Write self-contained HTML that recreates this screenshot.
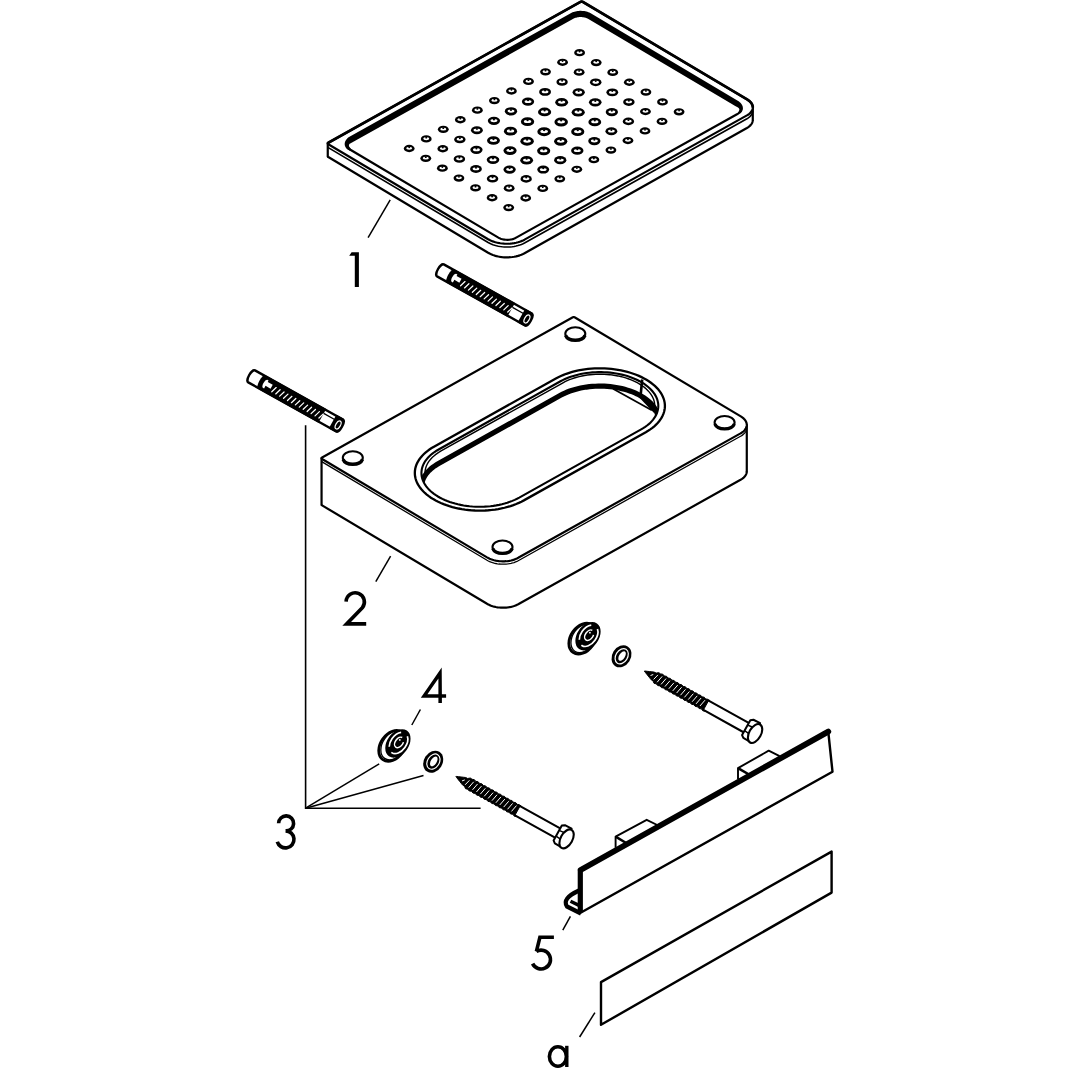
<!DOCTYPE html>
<html><head><meta charset="utf-8"><style>
html,body{margin:0;padding:0;background:#fff;width:1080px;height:1080px;overflow:hidden}
svg{display:block}
</style></head><body>
<svg width="1080" height="1080" viewBox="0 0 1080 1080">
<path d="M752.78,107.49 L752.71,108.38 L752.51,109.26 L752.20,110.12 L751.77,110.97 L751.23,111.80 L750.58,112.59 L749.81,113.36 L748.95,114.08 L747.99,114.77 L746.93,115.40 L524.53,239.66 L523.04,240.43 L521.44,241.13 L519.75,241.75 L517.98,242.30 L516.14,242.76 L514.24,243.14 L512.29,243.43 L510.31,243.63 L508.30,243.74 L506.28,243.76 L504.26,243.69 L502.26,243.52 L500.28,243.27 L498.34,242.93 L496.45,242.50 L494.62,241.99 L492.86,241.40 L491.19,240.73 L489.62,239.99 L488.14,239.18 L328.29,144.27 L328.19,144.20 L328.10,144.14 L328.02,144.07 L327.96,143.99 L327.90,143.92 L327.85,143.84 L327.81,143.76 L327.78,143.68 L327.77,143.59 L327.76,143.51 L327.76,156.30 L327.77,156.38 L327.78,156.46 L327.81,156.54 L327.85,156.63 L327.90,156.71 L327.96,156.78 L328.02,156.86 L328.10,156.93 L328.19,156.99 L328.29,157.06 L488.14,252.73 L489.62,253.55 L491.19,254.30 L492.86,254.97 L494.62,255.57 L496.45,256.08 L498.34,256.51 L500.28,256.86 L502.26,257.11 L504.26,257.28 L506.28,257.35 L508.30,257.33 L510.31,257.22 L512.29,257.02 L514.24,256.72 L516.14,256.34 L517.98,255.88 L519.75,255.33 L521.44,254.70 L523.04,253.99 L524.53,253.21 L746.93,127.96 L747.99,127.32 L748.95,126.63 L749.81,125.90 L750.58,125.13 L751.23,124.33 L751.77,123.49 L752.20,122.64 L752.51,121.77 L752.71,120.88 L752.78,119.99Z" fill="#fff" stroke="none"/><path d="M752.78,119.99 L752.71,120.88 L752.51,121.77 L752.20,122.64 L751.77,123.49 L751.23,124.33 L750.58,125.13 L749.81,125.90 L748.95,126.63 L747.99,127.32 L746.93,127.96 L524.53,253.21 L523.04,253.99 L521.44,254.70 L519.75,255.33 L517.98,255.88 L516.14,256.34 L514.24,256.72 L512.29,257.02 L510.31,257.22 L508.30,257.33 L506.28,257.35 L504.26,257.28 L502.26,257.11 L500.28,256.86 L498.34,256.51 L496.45,256.08 L494.62,255.57 L492.86,254.97 L491.19,254.30 L489.62,253.55 L488.14,252.73 L328.29,157.06 L328.19,156.99 L328.10,156.93 L328.02,156.86 L327.96,156.78 L327.90,156.71 L327.85,156.63 L327.81,156.54 L327.78,156.46 L327.77,156.38 L327.76,156.30" fill="none" stroke="#000" stroke-width="2.20" stroke-linejoin="round"/><path d="M752.78,107.49 L752.78,119.99 M327.76,143.51 L327.76,156.30" stroke="#000" stroke-width="2.20" stroke-linecap="round"/><path d="M582.99,1.97 L747.14,99.43 L748.18,100.10 L749.12,100.81 L749.97,101.55 L750.71,102.34 L751.34,103.15 L751.87,103.99 L752.27,104.85 L752.56,105.72 L752.73,106.61 L752.78,107.49 L752.71,108.38 L752.51,109.26 L752.20,110.12 L751.77,110.97 L751.23,111.80 L750.58,112.59 L749.81,113.36 L748.95,114.08 L747.99,114.77 L746.93,115.40 L524.53,239.66 L523.04,240.43 L521.44,241.13 L519.75,241.75 L517.98,242.30 L516.14,242.76 L514.24,243.14 L512.29,243.43 L510.31,243.63 L508.30,243.74 L506.28,243.76 L504.26,243.69 L502.26,243.52 L500.28,243.27 L498.34,242.93 L496.45,242.50 L494.62,241.99 L492.86,241.40 L491.19,240.73 L489.62,239.99 L488.14,239.18 L328.29,144.27 L328.19,144.20 L328.10,144.14 L328.02,144.07 L327.96,143.99 L327.90,143.92 L327.85,143.84 L327.81,143.76 L327.78,143.68 L327.77,143.59 L327.76,143.51 L327.77,143.43 L327.79,143.34 L327.82,143.26 L327.86,143.18 L327.91,143.11 L327.97,143.03 L328.04,142.96 L328.12,142.89 L328.21,142.83 L328.31,142.77 L580.39,1.93 L580.50,1.88 L580.61,1.83 L580.73,1.78 L580.86,1.74 L580.99,1.71 L581.13,1.68 L581.26,1.66 L581.41,1.65 L581.55,1.64 L581.69,1.64 L581.84,1.64 L581.98,1.66 L582.12,1.67 L582.26,1.70 L582.40,1.73 L582.53,1.76 L582.65,1.81 L582.77,1.86 L582.88,1.91 L582.99,1.97Z" fill="#fff" stroke="#000" stroke-width="2.20" stroke-linejoin="round"/><path d="M752.78,110.79 L752.71,111.68 L752.51,112.56 L752.20,113.42 L751.77,114.27 L751.23,115.10 L750.58,115.89 L749.81,116.66 L748.95,117.38 L747.99,118.07 L746.93,118.70 L524.53,242.96 L523.04,243.73 L521.44,244.43 L519.75,245.05 L517.98,245.60 L516.14,246.06 L514.24,246.44 L512.29,246.73 L510.31,246.93 L508.30,247.04 L506.28,247.06 L504.26,246.99 L502.26,246.82 L500.28,246.57 L498.34,246.23 L496.45,245.80 L494.62,245.29 L492.86,244.70 L491.19,244.03 L489.62,243.29 L488.14,242.48 L328.29,147.57 L328.19,147.50 L328.10,147.44 L328.02,147.37 L327.96,147.29 L327.90,147.22 L327.85,147.14 L327.81,147.06 L327.78,146.98 L327.77,146.89 L327.76,146.81" fill="none" stroke="#000" stroke-width="1.60"/><path d="M327.76,143.51 L327.77,143.43 L327.79,143.34 L327.82,143.26 L327.86,143.18 L327.91,143.11 L327.97,143.03 L328.04,142.96 L328.12,142.89 L328.21,142.83 L328.31,142.77 L580.39,1.93 L580.50,1.88 L580.61,1.83 L580.73,1.78 L580.86,1.74 L580.99,1.71 L581.13,1.68 L581.26,1.66 L581.41,1.65 L581.55,1.64 L581.69,1.64 L581.84,1.64 L581.98,1.66 L582.12,1.67 L582.26,1.70 L582.40,1.73 L582.53,1.76 L582.65,1.81 L582.77,1.86 L582.88,1.91 L582.99,1.97 L747.14,99.43 L748.18,100.10 L749.12,100.81 L749.97,101.55 L750.71,102.34 L751.34,103.15 L751.87,103.99 L752.27,104.85 L752.56,105.72 L752.73,106.61 L752.78,107.49" fill="none" stroke="#000" stroke-width="2.70" stroke-linejoin="round"/>
<path d="M589.56,16.13 L737.55,104.00 L738.20,104.41 L738.79,104.86 L739.32,105.32 L739.78,105.81 L740.18,106.32 L740.50,106.85 L740.76,107.38 L740.94,107.93 L741.04,108.48 L741.07,109.04 L741.03,109.59 L740.91,110.14 L740.71,110.68 L740.44,111.21 L740.10,111.73 L739.70,112.22 L739.22,112.70 L738.68,113.15 L738.08,113.58 L737.42,113.98 L515.72,237.84 L515.01,238.21 L514.25,238.54 L513.44,238.84 L512.60,239.10 L511.72,239.32 L510.82,239.50 L509.89,239.64 L508.94,239.74 L507.99,239.79 L507.03,239.80 L506.07,239.76 L505.11,239.69 L504.17,239.56 L503.24,239.40 L502.34,239.20 L501.47,238.96 L500.64,238.67 L499.84,238.35 L499.09,238.00 L498.39,237.62 L350.40,149.75 L349.75,149.33 L349.16,148.89 L348.64,148.42 L348.17,147.93 L347.78,147.42 L347.45,146.90 L347.20,146.36 L347.02,145.82 L346.91,145.26 L346.88,144.71 L346.92,144.16 L347.04,143.61 L347.24,143.07 L347.51,142.54 L347.85,142.02 L348.26,141.52 L348.73,141.05 L349.27,140.59 L349.87,140.16 L350.53,139.77 L572.23,15.90 L572.95,15.54 L573.71,15.20 L574.51,14.90 L575.35,14.65 L576.23,14.42 L577.13,14.24 L578.06,14.11 L579.01,14.01 L579.96,13.96 L580.93,13.95 L581.89,13.98 L582.84,14.06 L583.78,14.18 L584.71,14.34 L585.61,14.55 L586.48,14.79 L587.31,15.07 L588.11,15.39 L588.86,15.74 L589.56,16.13Z" fill="none" stroke="#000" stroke-width="2.2"/>
<path d="M351.00,148.82 L350.45,148.32 L350.02,147.84 L349.66,147.37 L349.37,146.90 L349.16,146.46 L349.02,146.04 L348.95,145.66 L348.94,145.31 L348.97,145.01 L349.05,144.74 L349.16,144.49 L349.31,144.26 L349.49,144.04 L349.71,143.82 L349.98,143.60 L350.30,143.38 L350.68,143.17 L351.10,142.96 L351.57,142.76 L352.05,142.47 L573.75,18.61 L574.28,18.33 L574.86,18.08 L575.50,17.84 L576.19,17.63 L576.91,17.45 L577.66,17.30 L578.45,17.18 L579.25,17.10 L580.06,17.06 L580.88,17.05 L581.71,17.08 L582.52,17.14 L583.32,17.25 L584.10,17.38 L584.85,17.55 L585.57,17.75 L586.24,17.98 L586.88,18.24 L587.46,18.51 L587.98,18.80 L736.08,106.47 L736.63,106.67 L737.13,106.89 L737.57,107.13 L737.96,107.38 L738.30,107.63 L738.59,107.90 L738.82,108.16 L739.01,108.43 L739.16,108.71 L739.27,109.01 L739.34,109.34 L739.35,109.69 L739.32,110.08 L739.21,110.49 L739.04,110.94 L738.80,111.41 L738.44,111.92 L740.00,113.48 L740.59,113.04 L741.17,112.51 L741.67,111.93 L742.11,111.28 L742.46,110.59 L742.72,109.84 L742.88,109.06 L742.92,108.25 L742.86,107.43 L742.69,106.61 L742.42,105.80 L742.05,105.01 L741.59,104.25 L741.06,103.52 L740.45,102.82 L739.76,102.16 L739.02,101.52 L591.14,13.46 L590.27,12.98 L589.34,12.55 L588.38,12.16 L587.39,11.83 L586.37,11.54 L585.32,11.30 L584.25,11.12 L583.16,10.98 L582.07,10.89 L580.97,10.85 L579.86,10.86 L578.77,10.92 L577.68,11.03 L576.60,11.19 L575.55,11.40 L574.52,11.66 L573.52,11.97 L572.55,12.33 L571.61,12.74 L570.72,13.20 L349.02,137.06 L348.18,137.57 L347.44,138.22 L346.79,138.92 L346.21,139.66 L345.71,140.44 L345.30,141.25 L344.99,142.09 L344.78,142.95 L344.68,143.82 L344.71,144.68 L344.84,145.52 L345.09,146.32 L345.44,147.07 L345.88,147.76 L346.39,148.39 L346.97,148.96 L347.62,149.48 L348.31,149.94 L349.05,150.34 L349.81,150.67Z" fill="#000"/>
<ellipse cx="579.60" cy="52.70" rx="5.40" ry="3.65" fill="#000"/><ellipse cx="579.60" cy="52.52" rx="3.02" ry="1.39" fill="#fff"/><ellipse cx="579.60" cy="51.50" rx="0.95" ry="0.88" fill="#000"/>
<ellipse cx="562.56" cy="62.28" rx="5.40" ry="3.65" fill="#000"/><ellipse cx="562.56" cy="62.10" rx="3.02" ry="1.39" fill="#fff"/><ellipse cx="562.56" cy="61.08" rx="0.95" ry="0.88" fill="#000"/>
<ellipse cx="545.52" cy="71.86" rx="5.40" ry="3.65" fill="#000"/><ellipse cx="545.52" cy="71.68" rx="3.02" ry="1.39" fill="#fff"/><ellipse cx="545.52" cy="70.66" rx="0.95" ry="0.88" fill="#000"/>
<ellipse cx="528.48" cy="81.44" rx="5.40" ry="3.65" fill="#000"/><ellipse cx="528.48" cy="81.26" rx="3.02" ry="1.39" fill="#fff"/><ellipse cx="528.48" cy="80.24" rx="0.95" ry="0.88" fill="#000"/>
<ellipse cx="511.44" cy="91.02" rx="5.40" ry="3.65" fill="#000"/><ellipse cx="511.44" cy="90.84" rx="3.02" ry="1.39" fill="#fff"/><ellipse cx="511.44" cy="89.82" rx="0.95" ry="0.88" fill="#000"/>
<ellipse cx="494.40" cy="100.60" rx="5.40" ry="3.65" fill="#000"/><ellipse cx="494.40" cy="100.42" rx="3.02" ry="1.39" fill="#fff"/><ellipse cx="494.40" cy="99.40" rx="0.95" ry="0.88" fill="#000"/>
<ellipse cx="477.36" cy="110.18" rx="5.40" ry="3.65" fill="#000"/><ellipse cx="477.36" cy="110.00" rx="3.02" ry="1.39" fill="#fff"/><ellipse cx="477.36" cy="108.98" rx="0.95" ry="0.88" fill="#000"/>
<ellipse cx="460.32" cy="119.76" rx="5.40" ry="3.65" fill="#000"/><ellipse cx="460.32" cy="119.58" rx="3.02" ry="1.39" fill="#fff"/><ellipse cx="460.32" cy="118.56" rx="0.95" ry="0.88" fill="#000"/>
<ellipse cx="443.28" cy="129.34" rx="5.40" ry="3.65" fill="#000"/><ellipse cx="443.28" cy="129.16" rx="3.02" ry="1.39" fill="#fff"/><ellipse cx="443.28" cy="128.14" rx="0.95" ry="0.88" fill="#000"/>
<ellipse cx="426.24" cy="138.92" rx="5.40" ry="3.65" fill="#000"/><ellipse cx="426.24" cy="138.74" rx="3.02" ry="1.39" fill="#fff"/><ellipse cx="426.24" cy="137.72" rx="0.95" ry="0.88" fill="#000"/>
<ellipse cx="409.20" cy="148.50" rx="5.40" ry="3.65" fill="#000"/><ellipse cx="409.20" cy="148.32" rx="3.02" ry="1.39" fill="#fff"/><ellipse cx="409.20" cy="147.30" rx="0.95" ry="0.88" fill="#000"/>
<ellipse cx="596.18" cy="62.55" rx="5.40" ry="3.65" fill="#000"/><ellipse cx="596.18" cy="62.37" rx="3.02" ry="1.39" fill="#fff"/><ellipse cx="596.18" cy="61.35" rx="0.95" ry="0.88" fill="#000"/>
<ellipse cx="579.14" cy="72.13" rx="5.40" ry="3.65" fill="#000"/><ellipse cx="579.14" cy="71.95" rx="3.02" ry="1.39" fill="#fff"/><ellipse cx="579.14" cy="70.93" rx="0.95" ry="0.88" fill="#000"/>
<ellipse cx="562.10" cy="82.00" rx="5.67" ry="3.82" fill="#000"/><ellipse cx="562.10" cy="81.81" rx="3.18" ry="1.45" fill="#fff"/><ellipse cx="562.10" cy="80.74" rx="0.99" ry="0.92" fill="#000"/>
<ellipse cx="545.06" cy="91.88" rx="5.95" ry="3.99" fill="#000"/><ellipse cx="545.06" cy="91.68" rx="3.33" ry="1.51" fill="#fff"/><ellipse cx="545.06" cy="90.57" rx="1.04" ry="0.96" fill="#000"/>
<ellipse cx="528.02" cy="101.64" rx="6.12" ry="4.09" fill="#000"/><ellipse cx="528.02" cy="101.44" rx="3.43" ry="1.55" fill="#fff"/><ellipse cx="528.02" cy="100.29" rx="1.06" ry="0.98" fill="#000"/>
<ellipse cx="510.98" cy="111.28" rx="6.18" ry="4.12" fill="#000"/><ellipse cx="510.98" cy="111.08" rx="3.46" ry="1.57" fill="#fff"/><ellipse cx="510.98" cy="109.92" rx="1.07" ry="0.99" fill="#000"/>
<ellipse cx="493.94" cy="120.80" rx="6.12" ry="4.09" fill="#000"/><ellipse cx="493.94" cy="120.60" rx="3.43" ry="1.55" fill="#fff"/><ellipse cx="493.94" cy="119.45" rx="1.06" ry="0.98" fill="#000"/>
<ellipse cx="476.90" cy="130.20" rx="5.95" ry="3.99" fill="#000"/><ellipse cx="476.90" cy="130.00" rx="3.33" ry="1.51" fill="#fff"/><ellipse cx="476.90" cy="128.89" rx="1.04" ry="0.96" fill="#000"/>
<ellipse cx="459.86" cy="139.48" rx="5.67" ry="3.82" fill="#000"/><ellipse cx="459.86" cy="139.29" rx="3.18" ry="1.45" fill="#fff"/><ellipse cx="459.86" cy="138.22" rx="0.99" ry="0.92" fill="#000"/>
<ellipse cx="442.82" cy="148.77" rx="5.40" ry="3.65" fill="#000"/><ellipse cx="442.82" cy="148.59" rx="3.02" ry="1.39" fill="#fff"/><ellipse cx="442.82" cy="147.57" rx="0.95" ry="0.88" fill="#000"/>
<ellipse cx="425.78" cy="158.35" rx="5.40" ry="3.65" fill="#000"/><ellipse cx="425.78" cy="158.17" rx="3.02" ry="1.39" fill="#fff"/><ellipse cx="425.78" cy="157.15" rx="0.95" ry="0.88" fill="#000"/>
<ellipse cx="612.76" cy="72.40" rx="5.40" ry="3.65" fill="#000"/><ellipse cx="612.76" cy="72.22" rx="3.02" ry="1.39" fill="#fff"/><ellipse cx="612.76" cy="71.20" rx="0.95" ry="0.88" fill="#000"/>
<ellipse cx="595.72" cy="82.35" rx="5.75" ry="3.86" fill="#000"/><ellipse cx="595.72" cy="82.16" rx="3.22" ry="1.47" fill="#fff"/><ellipse cx="595.72" cy="81.08" rx="1.00" ry="0.93" fill="#000"/>
<ellipse cx="578.68" cy="92.35" rx="6.14" ry="4.10" fill="#000"/><ellipse cx="578.68" cy="92.15" rx="3.44" ry="1.56" fill="#fff"/><ellipse cx="578.68" cy="91.00" rx="1.07" ry="0.98" fill="#000"/>
<ellipse cx="561.64" cy="102.23" rx="6.42" ry="4.27" fill="#000"/><ellipse cx="561.64" cy="102.02" rx="3.60" ry="1.62" fill="#fff"/><ellipse cx="561.64" cy="100.82" rx="1.11" ry="1.02" fill="#000"/>
<ellipse cx="544.60" cy="111.99" rx="6.59" ry="4.37" fill="#000"/><ellipse cx="544.60" cy="111.77" rx="3.69" ry="1.66" fill="#fff"/><ellipse cx="544.60" cy="110.55" rx="1.14" ry="1.05" fill="#000"/>
<ellipse cx="527.56" cy="121.63" rx="6.64" ry="4.41" fill="#000"/><ellipse cx="527.56" cy="121.41" rx="3.72" ry="1.67" fill="#fff"/><ellipse cx="527.56" cy="120.18" rx="1.15" ry="1.06" fill="#000"/>
<ellipse cx="510.52" cy="131.15" rx="6.59" ry="4.37" fill="#000"/><ellipse cx="510.52" cy="130.93" rx="3.69" ry="1.66" fill="#fff"/><ellipse cx="510.52" cy="129.71" rx="1.14" ry="1.05" fill="#000"/>
<ellipse cx="493.48" cy="140.55" rx="6.42" ry="4.27" fill="#000"/><ellipse cx="493.48" cy="140.34" rx="3.60" ry="1.62" fill="#fff"/><ellipse cx="493.48" cy="139.14" rx="1.11" ry="1.02" fill="#000"/>
<ellipse cx="476.44" cy="149.83" rx="6.14" ry="4.10" fill="#000"/><ellipse cx="476.44" cy="149.63" rx="3.44" ry="1.56" fill="#fff"/><ellipse cx="476.44" cy="148.48" rx="1.07" ry="0.98" fill="#000"/>
<ellipse cx="459.40" cy="158.99" rx="5.75" ry="3.86" fill="#000"/><ellipse cx="459.40" cy="158.80" rx="3.22" ry="1.47" fill="#fff"/><ellipse cx="459.40" cy="157.72" rx="1.00" ry="0.93" fill="#000"/>
<ellipse cx="442.36" cy="168.20" rx="5.40" ry="3.65" fill="#000"/><ellipse cx="442.36" cy="168.02" rx="3.02" ry="1.39" fill="#fff"/><ellipse cx="442.36" cy="167.00" rx="0.95" ry="0.88" fill="#000"/>
<ellipse cx="629.34" cy="82.25" rx="5.40" ry="3.65" fill="#000"/><ellipse cx="629.34" cy="82.07" rx="3.02" ry="1.39" fill="#fff"/><ellipse cx="629.34" cy="81.05" rx="0.95" ry="0.88" fill="#000"/>
<ellipse cx="612.30" cy="92.37" rx="5.90" ry="3.96" fill="#000"/><ellipse cx="612.30" cy="92.17" rx="3.31" ry="1.50" fill="#fff"/><ellipse cx="612.30" cy="91.06" rx="1.03" ry="0.95" fill="#000"/>
<ellipse cx="595.26" cy="102.37" rx="6.30" ry="4.19" fill="#000"/><ellipse cx="595.26" cy="102.16" rx="3.53" ry="1.59" fill="#fff"/><ellipse cx="595.26" cy="100.99" rx="1.09" ry="1.01" fill="#000"/>
<ellipse cx="578.22" cy="112.25" rx="6.58" ry="4.36" fill="#000"/><ellipse cx="578.22" cy="112.03" rx="3.68" ry="1.66" fill="#fff"/><ellipse cx="578.22" cy="110.81" rx="1.13" ry="1.05" fill="#000"/>
<ellipse cx="561.18" cy="122.01" rx="6.74" ry="4.47" fill="#000"/><ellipse cx="561.18" cy="121.79" rx="3.78" ry="1.70" fill="#fff"/><ellipse cx="561.18" cy="120.54" rx="1.16" ry="1.07" fill="#000"/>
<ellipse cx="544.14" cy="131.65" rx="6.80" ry="4.50" fill="#000"/><ellipse cx="544.14" cy="131.43" rx="3.81" ry="1.71" fill="#fff"/><ellipse cx="544.14" cy="130.16" rx="1.17" ry="1.08" fill="#000"/>
<ellipse cx="527.10" cy="141.17" rx="6.74" ry="4.47" fill="#000"/><ellipse cx="527.10" cy="140.95" rx="3.78" ry="1.70" fill="#fff"/><ellipse cx="527.10" cy="139.70" rx="1.16" ry="1.07" fill="#000"/>
<ellipse cx="510.06" cy="150.57" rx="6.58" ry="4.36" fill="#000"/><ellipse cx="510.06" cy="150.35" rx="3.68" ry="1.66" fill="#fff"/><ellipse cx="510.06" cy="149.13" rx="1.13" ry="1.05" fill="#000"/>
<ellipse cx="493.02" cy="159.85" rx="6.30" ry="4.19" fill="#000"/><ellipse cx="493.02" cy="159.64" rx="3.53" ry="1.59" fill="#fff"/><ellipse cx="493.02" cy="158.47" rx="1.09" ry="1.01" fill="#000"/>
<ellipse cx="475.98" cy="169.01" rx="5.90" ry="3.96" fill="#000"/><ellipse cx="475.98" cy="168.81" rx="3.31" ry="1.50" fill="#fff"/><ellipse cx="475.98" cy="167.70" rx="1.03" ry="0.95" fill="#000"/>
<ellipse cx="458.94" cy="178.05" rx="5.40" ry="3.65" fill="#000"/><ellipse cx="458.94" cy="177.87" rx="3.02" ry="1.39" fill="#fff"/><ellipse cx="458.94" cy="176.85" rx="0.95" ry="0.88" fill="#000"/>
<ellipse cx="645.92" cy="92.10" rx="5.40" ry="3.65" fill="#000"/><ellipse cx="645.92" cy="91.92" rx="3.02" ry="1.39" fill="#fff"/><ellipse cx="645.92" cy="90.90" rx="0.95" ry="0.88" fill="#000"/>
<ellipse cx="628.88" cy="102.05" rx="5.75" ry="3.86" fill="#000"/><ellipse cx="628.88" cy="101.86" rx="3.22" ry="1.47" fill="#fff"/><ellipse cx="628.88" cy="100.78" rx="1.00" ry="0.93" fill="#000"/>
<ellipse cx="611.84" cy="112.05" rx="6.14" ry="4.10" fill="#000"/><ellipse cx="611.84" cy="111.85" rx="3.44" ry="1.56" fill="#fff"/><ellipse cx="611.84" cy="110.70" rx="1.07" ry="0.98" fill="#000"/>
<ellipse cx="594.80" cy="121.93" rx="6.42" ry="4.27" fill="#000"/><ellipse cx="594.80" cy="121.72" rx="3.60" ry="1.62" fill="#fff"/><ellipse cx="594.80" cy="120.52" rx="1.11" ry="1.02" fill="#000"/>
<ellipse cx="577.76" cy="131.69" rx="6.59" ry="4.37" fill="#000"/><ellipse cx="577.76" cy="131.47" rx="3.69" ry="1.66" fill="#fff"/><ellipse cx="577.76" cy="130.25" rx="1.14" ry="1.05" fill="#000"/>
<ellipse cx="560.72" cy="141.33" rx="6.64" ry="4.41" fill="#000"/><ellipse cx="560.72" cy="141.11" rx="3.72" ry="1.67" fill="#fff"/><ellipse cx="560.72" cy="139.88" rx="1.15" ry="1.06" fill="#000"/>
<ellipse cx="543.68" cy="150.85" rx="6.59" ry="4.37" fill="#000"/><ellipse cx="543.68" cy="150.63" rx="3.69" ry="1.66" fill="#fff"/><ellipse cx="543.68" cy="149.41" rx="1.14" ry="1.05" fill="#000"/>
<ellipse cx="526.64" cy="160.25" rx="6.42" ry="4.27" fill="#000"/><ellipse cx="526.64" cy="160.04" rx="3.60" ry="1.62" fill="#fff"/><ellipse cx="526.64" cy="158.84" rx="1.11" ry="1.02" fill="#000"/>
<ellipse cx="509.60" cy="169.53" rx="6.14" ry="4.10" fill="#000"/><ellipse cx="509.60" cy="169.33" rx="3.44" ry="1.56" fill="#fff"/><ellipse cx="509.60" cy="168.18" rx="1.07" ry="0.98" fill="#000"/>
<ellipse cx="492.56" cy="178.69" rx="5.75" ry="3.86" fill="#000"/><ellipse cx="492.56" cy="178.50" rx="3.22" ry="1.47" fill="#fff"/><ellipse cx="492.56" cy="177.42" rx="1.00" ry="0.93" fill="#000"/>
<ellipse cx="475.52" cy="187.90" rx="5.40" ry="3.65" fill="#000"/><ellipse cx="475.52" cy="187.72" rx="3.02" ry="1.39" fill="#fff"/><ellipse cx="475.52" cy="186.70" rx="0.95" ry="0.88" fill="#000"/>
<ellipse cx="662.50" cy="101.95" rx="5.40" ry="3.65" fill="#000"/><ellipse cx="662.50" cy="101.77" rx="3.02" ry="1.39" fill="#fff"/><ellipse cx="662.50" cy="100.75" rx="0.95" ry="0.88" fill="#000"/>
<ellipse cx="645.46" cy="111.53" rx="5.40" ry="3.65" fill="#000"/><ellipse cx="645.46" cy="111.35" rx="3.02" ry="1.39" fill="#fff"/><ellipse cx="645.46" cy="110.33" rx="0.95" ry="0.88" fill="#000"/>
<ellipse cx="628.42" cy="121.40" rx="5.67" ry="3.82" fill="#000"/><ellipse cx="628.42" cy="121.21" rx="3.18" ry="1.45" fill="#fff"/><ellipse cx="628.42" cy="120.14" rx="0.99" ry="0.92" fill="#000"/>
<ellipse cx="611.38" cy="131.28" rx="5.95" ry="3.99" fill="#000"/><ellipse cx="611.38" cy="131.08" rx="3.33" ry="1.51" fill="#fff"/><ellipse cx="611.38" cy="129.97" rx="1.04" ry="0.96" fill="#000"/>
<ellipse cx="594.34" cy="141.04" rx="6.12" ry="4.09" fill="#000"/><ellipse cx="594.34" cy="140.84" rx="3.43" ry="1.55" fill="#fff"/><ellipse cx="594.34" cy="139.69" rx="1.06" ry="0.98" fill="#000"/>
<ellipse cx="577.30" cy="150.68" rx="6.18" ry="4.12" fill="#000"/><ellipse cx="577.30" cy="150.48" rx="3.46" ry="1.57" fill="#fff"/><ellipse cx="577.30" cy="149.32" rx="1.07" ry="0.99" fill="#000"/>
<ellipse cx="560.26" cy="160.20" rx="6.12" ry="4.09" fill="#000"/><ellipse cx="560.26" cy="160.00" rx="3.43" ry="1.55" fill="#fff"/><ellipse cx="560.26" cy="158.85" rx="1.06" ry="0.98" fill="#000"/>
<ellipse cx="543.22" cy="169.60" rx="5.95" ry="3.99" fill="#000"/><ellipse cx="543.22" cy="169.40" rx="3.33" ry="1.51" fill="#fff"/><ellipse cx="543.22" cy="168.29" rx="1.04" ry="0.96" fill="#000"/>
<ellipse cx="526.18" cy="178.88" rx="5.67" ry="3.82" fill="#000"/><ellipse cx="526.18" cy="178.69" rx="3.18" ry="1.45" fill="#fff"/><ellipse cx="526.18" cy="177.62" rx="0.99" ry="0.92" fill="#000"/>
<ellipse cx="509.14" cy="188.17" rx="5.40" ry="3.65" fill="#000"/><ellipse cx="509.14" cy="187.99" rx="3.02" ry="1.39" fill="#fff"/><ellipse cx="509.14" cy="186.97" rx="0.95" ry="0.88" fill="#000"/>
<ellipse cx="492.10" cy="197.75" rx="5.40" ry="3.65" fill="#000"/><ellipse cx="492.10" cy="197.57" rx="3.02" ry="1.39" fill="#fff"/><ellipse cx="492.10" cy="196.55" rx="0.95" ry="0.88" fill="#000"/>
<ellipse cx="679.08" cy="111.80" rx="5.40" ry="3.65" fill="#000"/><ellipse cx="679.08" cy="111.62" rx="3.02" ry="1.39" fill="#fff"/><ellipse cx="679.08" cy="110.60" rx="0.95" ry="0.88" fill="#000"/>
<ellipse cx="662.04" cy="121.38" rx="5.40" ry="3.65" fill="#000"/><ellipse cx="662.04" cy="121.20" rx="3.02" ry="1.39" fill="#fff"/><ellipse cx="662.04" cy="120.18" rx="0.95" ry="0.88" fill="#000"/>
<ellipse cx="645.00" cy="130.96" rx="5.40" ry="3.65" fill="#000"/><ellipse cx="645.00" cy="130.78" rx="3.02" ry="1.39" fill="#fff"/><ellipse cx="645.00" cy="129.76" rx="0.95" ry="0.88" fill="#000"/>
<ellipse cx="627.96" cy="140.54" rx="5.40" ry="3.65" fill="#000"/><ellipse cx="627.96" cy="140.36" rx="3.02" ry="1.39" fill="#fff"/><ellipse cx="627.96" cy="139.34" rx="0.95" ry="0.88" fill="#000"/>
<ellipse cx="610.92" cy="150.12" rx="5.40" ry="3.65" fill="#000"/><ellipse cx="610.92" cy="149.94" rx="3.02" ry="1.39" fill="#fff"/><ellipse cx="610.92" cy="148.92" rx="0.95" ry="0.88" fill="#000"/>
<ellipse cx="593.88" cy="159.70" rx="5.40" ry="3.65" fill="#000"/><ellipse cx="593.88" cy="159.52" rx="3.02" ry="1.39" fill="#fff"/><ellipse cx="593.88" cy="158.50" rx="0.95" ry="0.88" fill="#000"/>
<ellipse cx="576.84" cy="169.28" rx="5.40" ry="3.65" fill="#000"/><ellipse cx="576.84" cy="169.10" rx="3.02" ry="1.39" fill="#fff"/><ellipse cx="576.84" cy="168.08" rx="0.95" ry="0.88" fill="#000"/>
<ellipse cx="559.80" cy="178.86" rx="5.40" ry="3.65" fill="#000"/><ellipse cx="559.80" cy="178.68" rx="3.02" ry="1.39" fill="#fff"/><ellipse cx="559.80" cy="177.66" rx="0.95" ry="0.88" fill="#000"/>
<ellipse cx="542.76" cy="188.44" rx="5.40" ry="3.65" fill="#000"/><ellipse cx="542.76" cy="188.26" rx="3.02" ry="1.39" fill="#fff"/><ellipse cx="542.76" cy="187.24" rx="0.95" ry="0.88" fill="#000"/>
<ellipse cx="525.72" cy="198.02" rx="5.40" ry="3.65" fill="#000"/><ellipse cx="525.72" cy="197.84" rx="3.02" ry="1.39" fill="#fff"/><ellipse cx="525.72" cy="196.82" rx="0.95" ry="0.88" fill="#000"/>
<ellipse cx="508.68" cy="207.60" rx="5.40" ry="3.65" fill="#000"/><ellipse cx="508.68" cy="207.42" rx="3.02" ry="1.39" fill="#fff"/><ellipse cx="508.68" cy="206.40" rx="0.95" ry="0.88" fill="#000"/>
<path d="M746.78,424.98 L746.70,425.92 L746.50,426.86 L746.16,427.78 L745.71,428.68 L745.13,429.56 L744.43,430.41 L743.62,431.22 L742.71,431.99 L741.68,432.72 L740.56,433.40 L518.21,557.81 L516.93,558.47 L515.56,559.07 L514.11,559.61 L512.60,560.08 L511.02,560.47 L509.39,560.80 L507.72,561.04 L506.02,561.22 L504.30,561.31 L502.57,561.32 L500.84,561.26 L499.13,561.12 L497.43,560.90 L495.77,560.61 L494.15,560.24 L492.59,559.80 L491.08,559.29 L489.65,558.71 L488.30,558.07 L487.04,557.38 L322.09,458.97 L321.99,458.91 L321.90,458.84 L321.82,458.77 L321.75,458.70 L321.69,458.62 L321.65,458.54 L321.61,458.46 L321.58,458.38 L321.57,458.29 L321.56,458.21 L321.56,504.61 L321.57,504.69 L321.58,504.78 L321.61,504.86 L321.65,504.94 L321.69,505.02 L321.75,505.10 L321.82,505.17 L321.90,505.24 L321.99,505.31 L322.09,505.37 L487.04,603.78 L488.30,604.47 L489.65,605.11 L491.08,605.69 L492.59,606.20 L494.15,606.64 L495.77,607.01 L497.43,607.30 L499.13,607.52 L500.84,607.66 L502.57,607.72 L504.30,607.71 L506.02,607.62 L507.72,607.44 L509.39,607.20 L511.02,606.87 L512.60,606.48 L514.11,606.01 L515.56,605.47 L516.93,604.87 L518.21,604.21 L740.56,479.80 L741.68,479.12 L742.71,478.39 L743.62,477.62 L744.43,476.81 L745.13,475.96 L745.71,475.08 L746.16,474.18 L746.50,473.26 L746.70,472.32 L746.78,471.38Z" fill="#fff" stroke="none"/><path d="M746.78,471.38 L746.70,472.32 L746.50,473.26 L746.16,474.18 L745.71,475.08 L745.13,475.96 L744.43,476.81 L743.62,477.62 L742.71,478.39 L741.68,479.12 L740.56,479.80 L518.21,604.21 L516.93,604.87 L515.56,605.47 L514.11,606.01 L512.60,606.48 L511.02,606.87 L509.39,607.20 L507.72,607.44 L506.02,607.62 L504.30,607.71 L502.57,607.72 L500.84,607.66 L499.13,607.52 L497.43,607.30 L495.77,607.01 L494.15,606.64 L492.59,606.20 L491.08,605.69 L489.65,605.11 L488.30,604.47 L487.04,603.78 L322.09,505.37 L321.99,505.31 L321.90,505.24 L321.82,505.17 L321.75,505.10 L321.69,505.02 L321.65,504.94 L321.61,504.86 L321.58,504.78 L321.57,504.69 L321.56,504.61" fill="none" stroke="#000" stroke-width="2.20" stroke-linejoin="round"/><path d="M746.78,424.98 L746.78,471.38 M321.56,458.21 L321.56,504.61" stroke="#000" stroke-width="2.20" stroke-linecap="round"/><path d="M574.99,317.47 L740.80,416.39 L741.90,417.10 L742.90,417.85 L743.80,418.65 L744.59,419.49 L745.26,420.36 L745.81,421.25 L746.24,422.16 L746.55,423.10 L746.73,424.04 L746.78,424.98 L746.70,425.92 L746.50,426.86 L746.16,427.78 L745.71,428.68 L745.13,429.56 L744.43,430.41 L743.62,431.22 L742.71,431.99 L741.68,432.72 L740.56,433.40 L518.21,557.81 L516.93,558.47 L515.56,559.07 L514.11,559.61 L512.60,560.08 L511.02,560.47 L509.39,560.80 L507.72,561.04 L506.02,561.22 L504.30,561.31 L502.57,561.32 L500.84,561.26 L499.13,561.12 L497.43,560.90 L495.77,560.61 L494.15,560.24 L492.59,559.80 L491.08,559.29 L489.65,558.71 L488.30,558.07 L487.04,557.38 L322.09,458.97 L321.99,458.91 L321.90,458.84 L321.82,458.77 L321.75,458.70 L321.69,458.62 L321.65,458.54 L321.61,458.46 L321.58,458.38 L321.57,458.29 L321.56,458.21 L321.57,458.13 L321.59,458.04 L321.61,457.96 L321.66,457.88 L321.71,457.81 L321.77,457.73 L321.84,457.66 L321.92,457.59 L322.01,457.53 L322.11,457.47 L572.39,317.43 L572.50,317.38 L572.61,317.33 L572.73,317.28 L572.86,317.24 L572.99,317.21 L573.13,317.18 L573.26,317.16 L573.41,317.15 L573.55,317.14 L573.69,317.14 L573.84,317.14 L573.98,317.16 L574.12,317.17 L574.26,317.20 L574.40,317.23 L574.53,317.27 L574.65,317.31 L574.77,317.36 L574.88,317.41 L574.99,317.47Z" fill="#fff" stroke="#000" stroke-width="2.20" stroke-linejoin="round"/><path d="M746.78,427.88 L746.70,428.82 L746.50,429.76 L746.16,430.68 L745.71,431.58 L745.13,432.46 L744.43,433.31 L743.62,434.12 L742.71,434.89 L741.68,435.62 L740.56,436.30 L518.21,560.71 L516.93,561.37 L515.56,561.97 L514.11,562.51 L512.60,562.98 L511.02,563.37 L509.39,563.70 L507.72,563.94 L506.02,564.12 L504.30,564.21 L502.57,564.22 L500.84,564.16 L499.13,564.02 L497.43,563.80 L495.77,563.51 L494.15,563.14 L492.59,562.70 L491.08,562.19 L489.65,561.61 L488.30,560.97 L487.04,560.28 L322.09,461.87 L321.99,461.81 L321.90,461.74 L321.82,461.67 L321.75,461.60 L321.69,461.52 L321.65,461.44 L321.61,461.36 L321.58,461.28 L321.57,461.19 L321.56,461.11" fill="none" stroke="#000" stroke-width="1.30"/>
<ellipse cx="352.80" cy="457.80" rx="10" ry="6.5" fill="#fff" stroke="#000" stroke-width="2.1"/>
<path d="M343.10,459.30 A10,6.5 0 0 0 362.50,459.30" fill="none" stroke="#000" stroke-width="3.4"/>
<ellipse cx="575.30" cy="333.80" rx="10" ry="6.5" fill="#fff" stroke="#000" stroke-width="2.1"/>
<path d="M565.60,335.30 A10,6.5 0 0 0 585.00,335.30" fill="none" stroke="#000" stroke-width="3.4"/>
<ellipse cx="724.60" cy="422.50" rx="10" ry="6.5" fill="#fff" stroke="#000" stroke-width="2.1"/>
<path d="M714.90,424.00 A10,6.5 0 0 0 734.30,424.00" fill="none" stroke="#000" stroke-width="3.4"/>
<ellipse cx="502.50" cy="547.00" rx="10" ry="6.5" fill="#fff" stroke="#000" stroke-width="2.1"/>
<path d="M492.80,548.50 A10,6.5 0 0 0 512.20,548.50" fill="none" stroke="#000" stroke-width="3.4"/>
<defs><clipPath id="cS1"><path d="M641.14,429.40 L519.24,497.61 L517.04,498.77 L514.74,499.87 L512.33,500.90 L509.84,501.85 L507.26,502.72 L504.61,503.51 L501.88,504.22 L499.09,504.85 L496.24,505.39 L493.35,505.84 L490.42,506.21 L487.46,506.49 L484.47,506.67 L481.47,506.77 L478.46,506.77 L475.45,506.68 L472.45,506.50 L469.47,506.24 L466.52,505.88 L463.60,505.43 L460.72,504.90 L457.89,504.28 L455.12,503.57 L452.41,502.79 L449.78,501.92 L447.23,500.98 L444.76,499.96 L442.39,498.86 L440.11,497.70 L437.95,496.48 L435.89,495.19 L433.96,493.84 L432.14,492.43 L430.46,490.97 L428.91,489.47 L427.49,487.92 L426.22,486.33 L425.09,484.71 L424.11,483.06 L423.28,481.38 L422.60,479.68 L422.07,477.96 L421.70,476.23 L421.49,474.49 L421.44,472.75 L421.54,471.01 L421.80,469.28 L422.22,467.57 L422.79,465.86 L423.52,464.18 L424.39,462.53 L425.42,460.90 L426.60,459.31 L427.91,457.76 L429.37,456.25 L430.96,454.79 L432.69,453.38 L434.54,452.02 L436.51,450.73 L438.60,449.50 L560.50,381.29 L562.70,380.13 L565.00,379.03 L567.40,378.00 L569.90,377.05 L572.48,376.18 L575.13,375.39 L577.86,374.68 L580.65,374.05 L583.49,373.51 L586.39,373.05 L589.32,372.69 L592.28,372.41 L595.27,372.23 L598.27,372.13 L601.28,372.13 L604.29,372.22 L607.29,372.39 L610.27,372.66 L613.22,373.02 L616.14,373.47 L619.02,374.00 L621.85,374.62 L624.62,375.33 L627.33,376.11 L629.96,376.98 L632.51,377.92 L634.98,378.94 L637.35,380.03 L639.62,381.20 L641.79,382.42 L643.84,383.71 L645.78,385.06 L647.59,386.47 L649.28,387.93 L650.83,389.43 L652.24,390.98 L653.52,392.57 L654.65,394.19 L655.63,395.84 L656.46,397.52 L657.14,399.22 L657.66,400.94 L658.03,402.67 L658.25,404.41 L658.30,406.15 L658.20,407.88 L657.94,409.62 L657.52,411.33 L656.95,413.04 L656.22,414.72 L655.34,416.37 L654.32,418.00 L653.14,419.59 L651.83,421.14 L650.37,422.65 L648.78,424.11 L647.05,425.52 L645.20,426.87 L643.23,428.17 L641.14,429.40Z"/></clipPath><clipPath id="cWall"><path clip-rule="evenodd" d="M641.14,429.40 L519.24,497.61 L517.04,498.77 L514.74,499.87 L512.33,500.90 L509.84,501.85 L507.26,502.72 L504.61,503.51 L501.88,504.22 L499.09,504.85 L496.24,505.39 L493.35,505.84 L490.42,506.21 L487.46,506.49 L484.47,506.67 L481.47,506.77 L478.46,506.77 L475.45,506.68 L472.45,506.50 L469.47,506.24 L466.52,505.88 L463.60,505.43 L460.72,504.90 L457.89,504.28 L455.12,503.57 L452.41,502.79 L449.78,501.92 L447.23,500.98 L444.76,499.96 L442.39,498.86 L440.11,497.70 L437.95,496.48 L435.89,495.19 L433.96,493.84 L432.14,492.43 L430.46,490.97 L428.91,489.47 L427.49,487.92 L426.22,486.33 L425.09,484.71 L424.11,483.06 L423.28,481.38 L422.60,479.68 L422.07,477.96 L421.70,476.23 L421.49,474.49 L421.44,472.75 L421.54,471.01 L421.80,469.28 L422.22,467.57 L422.79,465.86 L423.52,464.18 L424.39,462.53 L425.42,460.90 L426.60,459.31 L427.91,457.76 L429.37,456.25 L430.96,454.79 L432.69,453.38 L434.54,452.02 L436.51,450.73 L438.60,449.50 L560.50,381.29 L562.70,380.13 L565.00,379.03 L567.40,378.00 L569.90,377.05 L572.48,376.18 L575.13,375.39 L577.86,374.68 L580.65,374.05 L583.49,373.51 L586.39,373.05 L589.32,372.69 L592.28,372.41 L595.27,372.23 L598.27,372.13 L601.28,372.13 L604.29,372.22 L607.29,372.39 L610.27,372.66 L613.22,373.02 L616.14,373.47 L619.02,374.00 L621.85,374.62 L624.62,375.33 L627.33,376.11 L629.96,376.98 L632.51,377.92 L634.98,378.94 L637.35,380.03 L639.62,381.20 L641.79,382.42 L643.84,383.71 L645.78,385.06 L647.59,386.47 L649.28,387.93 L650.83,389.43 L652.24,390.98 L653.52,392.57 L654.65,394.19 L655.63,395.84 L656.46,397.52 L657.14,399.22 L657.66,400.94 L658.03,402.67 L658.25,404.41 L658.30,406.15 L658.20,407.88 L657.94,409.62 L657.52,411.33 L656.95,413.04 L656.22,414.72 L655.34,416.37 L654.32,418.00 L653.14,419.59 L651.83,421.14 L650.37,422.65 L648.78,424.11 L647.05,425.52 L645.20,426.87 L643.23,428.17 L641.14,429.40Z M641.14,443.40 L519.24,511.61 L517.04,512.77 L514.74,513.87 L512.33,514.90 L509.84,515.85 L507.26,516.72 L504.61,517.51 L501.88,518.22 L499.09,518.85 L496.24,519.39 L493.35,519.84 L490.42,520.21 L487.46,520.49 L484.47,520.67 L481.47,520.77 L478.46,520.77 L475.45,520.68 L472.45,520.50 L469.47,520.24 L466.52,519.88 L463.60,519.43 L460.72,518.90 L457.89,518.28 L455.12,517.57 L452.41,516.79 L449.78,515.92 L447.23,514.98 L444.76,513.96 L442.39,512.86 L440.11,511.70 L437.95,510.48 L435.89,509.19 L433.96,507.84 L432.14,506.43 L430.46,504.97 L428.91,503.47 L427.49,501.92 L426.22,500.33 L425.09,498.71 L424.11,497.06 L423.28,495.38 L422.60,493.68 L422.07,491.96 L421.70,490.23 L421.49,488.49 L421.44,486.75 L421.54,485.01 L421.80,483.28 L422.22,481.57 L422.79,479.86 L423.52,478.18 L424.39,476.53 L425.42,474.90 L426.60,473.31 L427.91,471.76 L429.37,470.25 L430.96,468.79 L432.69,467.38 L434.54,466.02 L436.51,464.73 L438.60,463.50 L560.50,395.29 L562.70,394.13 L565.00,393.03 L567.40,392.00 L569.90,391.05 L572.48,390.18 L575.13,389.39 L577.86,388.68 L580.65,388.05 L583.49,387.51 L586.39,387.05 L589.32,386.69 L592.28,386.41 L595.27,386.23 L598.27,386.13 L601.28,386.13 L604.29,386.22 L607.29,386.39 L610.27,386.66 L613.22,387.02 L616.14,387.47 L619.02,388.00 L621.85,388.62 L624.62,389.33 L627.33,390.11 L629.96,390.98 L632.51,391.92 L634.98,392.94 L637.35,394.03 L639.62,395.20 L641.79,396.42 L643.84,397.71 L645.78,399.06 L647.59,400.47 L649.28,401.93 L650.83,403.43 L652.24,404.98 L653.52,406.57 L654.65,408.19 L655.63,409.84 L656.46,411.52 L657.14,413.22 L657.66,414.94 L658.03,416.67 L658.25,418.41 L658.30,420.15 L658.20,421.88 L657.94,423.62 L657.52,425.33 L656.95,427.04 L656.22,428.72 L655.34,430.37 L654.32,432.00 L653.14,433.59 L651.83,435.14 L650.37,436.65 L648.78,438.11 L647.05,439.52 L645.20,440.87 L643.23,442.17 L641.14,443.40Z"/></clipPath></defs>
<path d="M645.78,432.17 L523.88,500.37 L521.43,501.67 L518.86,502.90 L516.18,504.04 L513.40,505.10 L510.52,506.07 L507.56,506.96 L504.52,507.75 L501.41,508.45 L498.24,509.05 L495.01,509.56 L491.74,509.97 L488.44,510.27 L485.11,510.48 L481.76,510.59 L478.41,510.59 L475.05,510.49 L471.71,510.29 L468.39,510.00 L465.09,509.60 L461.83,509.10 L458.62,508.50 L455.47,507.81 L452.38,507.03 L449.36,506.15 L446.43,505.18 L443.58,504.13 L440.83,502.99 L438.18,501.78 L435.65,500.48 L433.24,499.11 L430.95,497.67 L428.79,496.17 L426.76,494.60 L424.89,492.98 L423.16,491.30 L421.58,489.57 L420.16,487.80 L418.90,485.99 L417.80,484.15 L416.88,482.28 L416.12,480.38 L415.54,478.47 L415.12,476.54 L414.89,474.60 L414.83,472.66 L414.94,470.72 L415.23,468.79 L415.70,466.88 L416.33,464.98 L417.14,463.10 L418.12,461.26 L419.27,459.45 L420.58,457.67 L422.05,455.94 L423.67,454.26 L425.45,452.63 L427.37,451.06 L429.43,449.55 L431.63,448.10 L433.96,446.73 L555.86,378.53 L558.31,377.23 L560.88,376.00 L563.56,374.86 L566.34,373.80 L569.22,372.83 L572.18,371.94 L575.22,371.15 L578.33,370.45 L581.50,369.85 L584.73,369.34 L588.00,368.93 L591.30,368.63 L594.63,368.42 L597.98,368.31 L601.33,368.31 L604.69,368.41 L608.03,368.60 L611.35,368.90 L614.65,369.30 L617.90,369.80 L621.11,370.40 L624.27,371.09 L627.36,371.87 L630.37,372.75 L633.31,373.72 L636.16,374.77 L638.91,375.91 L641.55,377.12 L644.09,378.42 L646.50,379.79 L648.79,381.23 L650.95,382.73 L652.97,384.30 L654.85,385.92 L656.58,387.60 L658.16,389.33 L659.58,391.10 L660.84,392.91 L661.93,394.75 L662.86,396.62 L663.62,398.52 L664.20,400.43 L664.61,402.36 L664.85,404.30 L664.91,406.24 L664.80,408.18 L664.51,410.11 L664.04,412.02 L663.40,413.92 L662.59,415.80 L661.62,417.64 L660.47,419.45 L659.16,421.23 L657.69,422.96 L656.07,424.64 L654.29,426.27 L652.37,427.84 L650.30,429.35 L648.10,430.79 L645.78,432.17Z" fill="#fff" stroke="#000" stroke-width="2.3"/>
<path d="M641.14,429.40 L519.24,497.61 L517.04,498.77 L514.74,499.87 L512.33,500.90 L509.84,501.85 L507.26,502.72 L504.61,503.51 L501.88,504.22 L499.09,504.85 L496.24,505.39 L493.35,505.84 L490.42,506.21 L487.46,506.49 L484.47,506.67 L481.47,506.77 L478.46,506.77 L475.45,506.68 L472.45,506.50 L469.47,506.24 L466.52,505.88 L463.60,505.43 L460.72,504.90 L457.89,504.28 L455.12,503.57 L452.41,502.79 L449.78,501.92 L447.23,500.98 L444.76,499.96 L442.39,498.86 L440.11,497.70 L437.95,496.48 L435.89,495.19 L433.96,493.84 L432.14,492.43 L430.46,490.97 L428.91,489.47 L427.49,487.92 L426.22,486.33 L425.09,484.71 L424.11,483.06 L423.28,481.38 L422.60,479.68 L422.07,477.96 L421.70,476.23 L421.49,474.49 L421.44,472.75 L421.54,471.01 L421.80,469.28 L422.22,467.57 L422.79,465.86 L423.52,464.18 L424.39,462.53 L425.42,460.90 L426.60,459.31 L427.91,457.76 L429.37,456.25 L430.96,454.79 L432.69,453.38 L434.54,452.02 L436.51,450.73 L438.60,449.50 L560.50,381.29 L562.70,380.13 L565.00,379.03 L567.40,378.00 L569.90,377.05 L572.48,376.18 L575.13,375.39 L577.86,374.68 L580.65,374.05 L583.49,373.51 L586.39,373.05 L589.32,372.69 L592.28,372.41 L595.27,372.23 L598.27,372.13 L601.28,372.13 L604.29,372.22 L607.29,372.39 L610.27,372.66 L613.22,373.02 L616.14,373.47 L619.02,374.00 L621.85,374.62 L624.62,375.33 L627.33,376.11 L629.96,376.98 L632.51,377.92 L634.98,378.94 L637.35,380.03 L639.62,381.20 L641.79,382.42 L643.84,383.71 L645.78,385.06 L647.59,386.47 L649.28,387.93 L650.83,389.43 L652.24,390.98 L653.52,392.57 L654.65,394.19 L655.63,395.84 L656.46,397.52 L657.14,399.22 L657.66,400.94 L658.03,402.67 L658.25,404.41 L658.30,406.15 L658.20,407.88 L657.94,409.62 L657.52,411.33 L656.95,413.04 L656.22,414.72 L655.34,416.37 L654.32,418.00 L653.14,419.59 L651.83,421.14 L650.37,422.65 L648.78,424.11 L647.05,425.52 L645.20,426.87 L643.23,428.17 L641.14,429.40Z" fill="none" stroke="#000" stroke-width="2.1"/>
<path d="M638.65,427.92 L516.75,496.12 L514.69,497.21 L512.52,498.24 L510.27,499.21 L507.93,500.10 L505.51,500.92 L503.02,501.66 L500.46,502.33 L497.84,502.92 L495.17,503.42 L492.46,503.85 L489.71,504.19 L486.93,504.45 L484.13,504.63 L481.31,504.71 L478.49,504.72 L475.67,504.64 L472.85,504.47 L470.06,504.22 L467.28,503.88 L464.54,503.46 L461.84,502.96 L459.19,502.38 L456.59,501.72 L454.05,500.98 L451.58,500.17 L449.18,499.28 L446.87,498.33 L444.64,497.30 L442.51,496.21 L440.48,495.06 L438.55,493.85 L436.74,492.58 L435.03,491.26 L433.45,489.90 L432.00,488.49 L430.67,487.03 L429.48,485.54 L428.42,484.02 L427.49,482.47 L426.71,480.89 L426.08,479.30 L425.58,477.69 L425.24,476.06 L425.04,474.43 L424.99,472.80 L425.09,471.17 L425.33,469.55 L425.72,467.94 L426.26,466.34 L426.94,464.76 L427.76,463.21 L428.73,461.68 L429.83,460.19 L431.06,458.73 L432.43,457.32 L433.93,455.95 L435.54,454.62 L437.28,453.35 L439.13,452.14 L441.09,450.98 L562.99,382.78 L565.05,381.69 L567.21,380.66 L569.47,379.69 L571.81,378.80 L574.23,377.98 L576.72,377.24 L579.28,376.57 L581.89,375.98 L584.56,375.47 L587.28,375.05 L590.03,374.71 L592.81,374.45 L595.61,374.27 L598.43,374.18 L601.25,374.18 L604.07,374.26 L606.89,374.43 L609.68,374.68 L612.45,375.02 L615.19,375.44 L617.90,375.94 L620.55,376.52 L623.15,377.18 L625.69,377.92 L628.16,378.73 L630.55,379.62 L632.87,380.57 L635.09,381.60 L637.23,382.69 L639.26,383.84 L641.19,385.05 L643.00,386.32 L644.70,387.63 L646.28,389.00 L647.74,390.41 L649.07,391.87 L650.26,393.36 L651.32,394.88 L652.24,396.43 L653.02,398.01 L653.66,399.60 L654.15,401.21 L654.50,402.84 L654.70,404.47 L654.75,406.10 L654.65,407.73 L654.41,409.35 L654.02,410.96 L653.48,412.56 L652.80,414.14 L651.98,415.69 L651.01,417.22 L649.91,418.71 L648.67,420.17 L647.31,421.58 L645.81,422.95 L644.20,424.27 L642.46,425.54 L640.61,426.76 L638.65,427.92Z" fill="none" stroke="#000" stroke-width="1.4" clip-path="url(#cWall)"/>
<path d="M641.14,443.40 L519.24,511.61 L517.04,512.77 L514.74,513.87 L512.33,514.90 L509.84,515.85 L507.26,516.72 L504.61,517.51 L501.88,518.22 L499.09,518.85 L496.24,519.39 L493.35,519.84 L490.42,520.21 L487.46,520.49 L484.47,520.67 L481.47,520.77 L478.46,520.77 L475.45,520.68 L472.45,520.50 L469.47,520.24 L466.52,519.88 L463.60,519.43 L460.72,518.90 L457.89,518.28 L455.12,517.57 L452.41,516.79 L449.78,515.92 L447.23,514.98 L444.76,513.96 L442.39,512.86 L440.11,511.70 L437.95,510.48 L435.89,509.19 L433.96,507.84 L432.14,506.43 L430.46,504.97 L428.91,503.47 L427.49,501.92 L426.22,500.33 L425.09,498.71 L424.11,497.06 L423.28,495.38 L422.60,493.68 L422.07,491.96 L421.70,490.23 L421.49,488.49 L421.44,486.75 L421.54,485.01 L421.80,483.28 L422.22,481.57 L422.79,479.86 L423.52,478.18 L424.39,476.53 L425.42,474.90 L426.60,473.31 L427.91,471.76 L429.37,470.25 L430.96,468.79 L432.69,467.38 L434.54,466.02 L436.51,464.73 L438.60,463.50 L560.50,395.29 L562.70,394.13 L565.00,393.03 L567.40,392.00 L569.90,391.05 L572.48,390.18 L575.13,389.39 L577.86,388.68 L580.65,388.05 L583.49,387.51 L586.39,387.05 L589.32,386.69 L592.28,386.41 L595.27,386.23 L598.27,386.13 L601.28,386.13 L604.29,386.22 L607.29,386.39 L610.27,386.66 L613.22,387.02 L616.14,387.47 L619.02,388.00 L621.85,388.62 L624.62,389.33 L627.33,390.11 L629.96,390.98 L632.51,391.92 L634.98,392.94 L637.35,394.03 L639.62,395.20 L641.79,396.42 L643.84,397.71 L645.78,399.06 L647.59,400.47 L649.28,401.93 L650.83,403.43 L652.24,404.98 L653.52,406.57 L654.65,408.19 L655.63,409.84 L656.46,411.52 L657.14,413.22 L657.66,414.94 L658.03,416.67 L658.25,418.41 L658.30,420.15 L658.20,421.88 L657.94,423.62 L657.52,425.33 L656.95,427.04 L656.22,428.72 L655.34,430.37 L654.32,432.00 L653.14,433.59 L651.83,435.14 L650.37,436.65 L648.78,438.11 L647.05,439.52 L645.20,440.87 L643.23,442.17 L641.14,443.40Z" fill="none" stroke="#000" stroke-width="5.2" clip-path="url(#cS1)"/>
<path d="M642.2,379.5 L640.6,395.5" stroke="#000" stroke-width="2.6" fill="none"/>
<path d="M613.0,388.8 L651.8,410.2" stroke="#000" stroke-width="1.8" fill="none"/>
<path d="M640.2,396.0 L655.0,411.5" stroke="#000" stroke-width="3.4" fill="none"/>
<path d="M443.78,264.34 L531.74,313.41 A2.8,6.90 29.16 0 1 525.02,325.46 L437.06,276.39 A2.8,6.90 29.16 0 1 443.78,264.34 Z" fill="#fff" stroke="#000" stroke-width="2.4"/><path d="M454.21,269.24 A2.6,7.70 29.16 0 0 446.71,282.69 L507.35,316.64 L514.96,303.02 Z" fill="#000"/><path d="M456.07,273.71 A2.2,4.70 29.16 0 0 451.59,281.75 L452.90,282.48 L454.36,279.86 L459.34,282.63 L461.53,278.70 L456.55,275.93 L457.38,274.44 Z" fill="#fff"/><path d="M464.98,281.55 L460.58,285.74" stroke="#fff" stroke-width="1.25" fill="none" stroke-linecap="round"/><path d="M468.91,283.74 L464.51,287.93" stroke="#fff" stroke-width="1.25" fill="none" stroke-linecap="round"/><path d="M472.84,285.93 L468.44,290.12" stroke="#fff" stroke-width="1.25" fill="none" stroke-linecap="round"/><path d="M476.77,288.12 L472.37,292.31" stroke="#fff" stroke-width="1.25" fill="none" stroke-linecap="round"/><path d="M480.70,290.32 L476.30,294.51" stroke="#fff" stroke-width="1.25" fill="none" stroke-linecap="round"/><path d="M484.63,292.51 L480.23,296.70" stroke="#fff" stroke-width="1.25" fill="none" stroke-linecap="round"/><path d="M488.56,294.70 L484.16,298.89" stroke="#fff" stroke-width="1.25" fill="none" stroke-linecap="round"/><path d="M492.49,296.89 L488.09,301.08" stroke="#fff" stroke-width="1.25" fill="none" stroke-linecap="round"/><path d="M496.42,299.09 L492.02,303.28" stroke="#fff" stroke-width="1.25" fill="none" stroke-linecap="round"/><path d="M500.35,301.28 L495.95,305.47" stroke="#fff" stroke-width="1.25" fill="none" stroke-linecap="round"/><path d="M504.28,303.47 L499.88,307.66" stroke="#fff" stroke-width="1.25" fill="none" stroke-linecap="round"/><path d="M508.21,305.67 L503.81,309.85" stroke="#fff" stroke-width="1.25" fill="none" stroke-linecap="round"/><path d="M512.14,307.86 L507.74,312.05" stroke="#fff" stroke-width="1.25" fill="none" stroke-linecap="round"/><path d="M512.52,307.38 L524.74,314.20" stroke="#000" stroke-width="1.3"/><path d="M525.24,308.64 L532.23,312.54 A3,7.90 29.16 0 1 524.53,326.34 L517.54,322.44 Z" fill="#000"/><ellipse cx="526.92" cy="318.97" rx="2.3" ry="4.4" transform="rotate(29.2 526.92 318.97)" fill="none" stroke="#fff" stroke-width="1.2"/>
<path d="M254.98,370.34 L342.94,419.41 A2.8,6.90 29.16 0 1 336.22,431.46 L248.26,382.39 A2.8,6.90 29.16 0 1 254.98,370.34 Z" fill="#fff" stroke="#000" stroke-width="2.4"/><path d="M265.41,375.24 A2.6,7.70 29.16 0 0 257.91,388.69 L318.55,422.64 L326.16,409.02 Z" fill="#000"/><path d="M267.27,379.71 A2.2,4.70 29.16 0 0 262.79,387.75 L264.10,388.48 L265.56,385.86 L270.54,388.63 L272.73,384.70 L267.75,381.93 L268.58,380.44 Z" fill="#fff"/><path d="M276.18,387.55 L271.78,391.74" stroke="#fff" stroke-width="1.25" fill="none" stroke-linecap="round"/><path d="M280.11,389.74 L275.71,393.93" stroke="#fff" stroke-width="1.25" fill="none" stroke-linecap="round"/><path d="M284.04,391.93 L279.64,396.12" stroke="#fff" stroke-width="1.25" fill="none" stroke-linecap="round"/><path d="M287.97,394.12 L283.57,398.31" stroke="#fff" stroke-width="1.25" fill="none" stroke-linecap="round"/><path d="M291.90,396.32 L287.50,400.51" stroke="#fff" stroke-width="1.25" fill="none" stroke-linecap="round"/><path d="M295.83,398.51 L291.43,402.70" stroke="#fff" stroke-width="1.25" fill="none" stroke-linecap="round"/><path d="M299.76,400.70 L295.36,404.89" stroke="#fff" stroke-width="1.25" fill="none" stroke-linecap="round"/><path d="M303.69,402.89 L299.29,407.08" stroke="#fff" stroke-width="1.25" fill="none" stroke-linecap="round"/><path d="M307.62,405.09 L303.22,409.28" stroke="#fff" stroke-width="1.25" fill="none" stroke-linecap="round"/><path d="M311.55,407.28 L307.15,411.47" stroke="#fff" stroke-width="1.25" fill="none" stroke-linecap="round"/><path d="M315.48,409.47 L311.08,413.66" stroke="#fff" stroke-width="1.25" fill="none" stroke-linecap="round"/><path d="M319.41,411.67 L315.01,415.85" stroke="#fff" stroke-width="1.25" fill="none" stroke-linecap="round"/><path d="M323.34,413.86 L318.94,418.05" stroke="#fff" stroke-width="1.25" fill="none" stroke-linecap="round"/><path d="M323.72,413.38 L335.94,420.20" stroke="#000" stroke-width="1.3"/><path d="M336.44,414.64 L343.43,418.54 A3,7.90 29.16 0 1 335.73,432.34 L328.74,428.44 Z" fill="#000"/><ellipse cx="338.12" cy="424.97" rx="2.3" ry="4.4" transform="rotate(29.2 338.12 424.97)" fill="none" stroke="#fff" stroke-width="1.2"/>
<path d="M390.20,199.80 L368.10,237.60" stroke="#000" stroke-width="1.50" fill="none"/>
<path d="M390.60,556.20 L375.80,581.70" stroke="#000" stroke-width="1.50" fill="none"/>
<path d="M420.40,709.50 L411.80,725.00" stroke="#000" stroke-width="1.50" fill="none"/>
<path d="M570.40,916.40 L562.80,930.10" stroke="#000" stroke-width="1.50" fill="none"/>
<path d="M594.90,1012.60 L579.60,1037.00" stroke="#000" stroke-width="1.50" fill="none"/>
<path d="M305.6,425.2 L305.6,808.2 L480.6,808.2" stroke="#000" stroke-width="1.6" fill="none"/>
<path d="M305.60,808.20 L379.20,763.90" stroke="#000" stroke-width="1.50" fill="none"/>
<path d="M305.60,808.20 L423.50,775.50" stroke="#000" stroke-width="1.50" fill="none"/>
<ellipse cx="582.60" cy="638.70" rx="12.00" ry="16.80" transform="rotate(35 582.60 638.70)" fill="#fff" stroke="#000" stroke-width="2.8"/><ellipse cx="583.90" cy="638.10" rx="11.20" ry="16.00" transform="rotate(35 583.90 638.10)" fill="none" stroke="#000" stroke-width="1.3"/><ellipse cx="588.00" cy="636.20" rx="10.90" ry="15.60" transform="rotate(35 588.00 636.20)" fill="#000"/><ellipse cx="588.60" cy="635.80" rx="7.80" ry="11.80" transform="rotate(35 588.60 635.80)" fill="none" stroke="#fff" stroke-width="1.7" stroke-dasharray="16 6 20 8"/><ellipse cx="589.20" cy="635.20" rx="3.80" ry="5.80" transform="rotate(35 589.20 635.20)" fill="none" stroke="#fff" stroke-width="1.5" stroke-dasharray="22 5"/><circle cx="589.90" cy="632.70" r="0.9" fill="#fff"/>
<ellipse cx="392.50" cy="745.90" rx="12.00" ry="16.80" transform="rotate(35 392.50 745.90)" fill="#fff" stroke="#000" stroke-width="2.8"/><ellipse cx="393.80" cy="745.30" rx="11.20" ry="16.00" transform="rotate(35 393.80 745.30)" fill="none" stroke="#000" stroke-width="1.3"/><ellipse cx="397.90" cy="743.40" rx="10.90" ry="15.60" transform="rotate(35 397.90 743.40)" fill="#000"/><ellipse cx="398.50" cy="743.00" rx="7.80" ry="11.80" transform="rotate(35 398.50 743.00)" fill="none" stroke="#fff" stroke-width="1.7" stroke-dasharray="16 6 20 8"/><ellipse cx="399.10" cy="742.40" rx="3.80" ry="5.80" transform="rotate(35 399.10 742.40)" fill="none" stroke="#fff" stroke-width="1.5" stroke-dasharray="22 5"/><circle cx="399.80" cy="739.90" r="0.9" fill="#fff"/>
<ellipse cx="621.50" cy="656.30" rx="9.30" ry="11.60" transform="rotate(32 621.50 656.30)" fill="#000"/><ellipse cx="621.70" cy="656.20" rx="5.90" ry="8.20" transform="rotate(32 621.70 656.20)" fill="none" stroke="#fff" stroke-width="1.2"/><ellipse cx="622.10" cy="656.00" rx="2.90" ry="5.40" transform="rotate(32 622.10 656.00)" fill="#fff"/>
<ellipse cx="433.20" cy="761.70" rx="9.30" ry="11.60" transform="rotate(32 433.20 761.70)" fill="#000"/><ellipse cx="433.40" cy="761.60" rx="5.90" ry="8.20" transform="rotate(32 433.40 761.60)" fill="none" stroke="#fff" stroke-width="1.2"/><ellipse cx="433.80" cy="761.40" rx="2.90" ry="5.40" transform="rotate(32 433.80 761.40)" fill="#fff"/>
<path d="M644.36,671.06 L644.95,671.04 L647.26,671.30 L649.57,671.57 L651.88,671.84 L654.19,672.11 L656.11,673.07 L658.81,672.64 L660.58,673.89 L662.85,674.23 L664.34,675.98 L666.61,676.32 L668.10,678.06 L670.36,678.41 L671.86,680.15 L674.12,680.50 L675.61,682.24 L677.88,682.58 L679.37,684.33 L681.64,684.67 L683.13,686.42 L685.40,686.76 L686.89,688.50 L689.16,688.85 L690.65,690.59 L692.92,690.94 L694.41,692.68 L696.68,693.02 L698.17,694.77 L700.44,695.11 L701.93,696.86 L704.20,697.20 L705.69,698.94 L707.96,699.29 L709.45,701.03 L709.00,699.87 L702.98,710.71 L705.08,710.96 L702.81,710.61 L701.32,708.87 L699.05,708.53 L697.56,706.78 L695.29,706.44 L693.80,704.69 L691.53,704.35 L690.04,702.61 L687.77,702.26 L686.28,700.52 L684.01,700.17 L682.52,698.43 L680.25,698.09 L678.76,696.34 L676.49,696.00 L675.00,694.25 L672.74,693.91 L671.24,692.17 L668.98,691.82 L667.49,690.08 L665.22,689.73 L663.73,687.99 L661.46,687.65 L659.97,685.90 L657.70,685.56 L656.21,683.81 L654.02,683.33 L652.96,680.81 L651.12,679.69 L649.67,677.87 L648.22,676.05 L646.78,674.23 L645.33,672.41 Z" fill="#000" stroke="#000" stroke-width="1.0" stroke-linejoin="round"/><path d="M652.89,674.64 L650.89,675.38" stroke="#fff" stroke-width="1.0" stroke-linecap="round"/><path d="M657.68,675.20 L653.88,679.14" stroke="#fff" stroke-width="1.0" stroke-linecap="round"/><path d="M661.93,676.70 L657.41,681.96" stroke="#fff" stroke-width="1.0" stroke-linecap="round"/><path d="M665.82,678.86 L661.30,684.12" stroke="#fff" stroke-width="1.0" stroke-linecap="round"/><path d="M669.71,681.02 L665.19,686.29" stroke="#fff" stroke-width="1.0" stroke-linecap="round"/><path d="M673.60,683.18 L669.08,688.45" stroke="#fff" stroke-width="1.0" stroke-linecap="round"/><path d="M677.49,685.34 L672.97,690.61" stroke="#fff" stroke-width="1.0" stroke-linecap="round"/><path d="M681.38,687.50 L676.86,692.77" stroke="#fff" stroke-width="1.0" stroke-linecap="round"/><path d="M685.27,689.66 L680.75,694.93" stroke="#fff" stroke-width="1.0" stroke-linecap="round"/><path d="M689.17,691.82 L684.64,697.09" stroke="#fff" stroke-width="1.0" stroke-linecap="round"/><path d="M693.06,693.99 L688.53,699.25" stroke="#fff" stroke-width="1.0" stroke-linecap="round"/><path d="M696.95,696.15 L692.42,701.41" stroke="#fff" stroke-width="1.0" stroke-linecap="round"/><path d="M700.84,698.31 L696.31,703.57" stroke="#fff" stroke-width="1.0" stroke-linecap="round"/><path d="M704.73,700.47 L700.20,705.73" stroke="#fff" stroke-width="1.0" stroke-linecap="round"/><path d="M707.69,700.17 L751.40,724.45 M702.55,709.44 L746.26,733.72" stroke="#000" stroke-width="2.1"/><path d="M750.33,720.20 L753.44,719.75 L760.10,723.22 L749.80,741.75 L743.34,737.93 L742.08,735.06 Z" fill="#fff" stroke="#000" stroke-width="2" stroke-linejoin="round"/><path d="M748.10,725.25 L756.89,728.99 M744.94,730.93 L752.76,736.42" stroke="#000" stroke-width="1.4"/><ellipse cx="755.08" cy="733.47" rx="5.9" ry="10.3" transform="rotate(29.1 755.08 733.47)" fill="#fff" stroke="#000" stroke-width="2.1"/>
<path d="M455.86,776.46 L456.45,776.44 L458.76,776.70 L461.07,776.97 L463.38,777.24 L465.69,777.51 L467.61,778.47 L470.31,778.04 L472.08,779.29 L474.35,779.63 L475.84,781.38 L478.11,781.72 L479.60,783.46 L481.86,783.81 L483.36,785.55 L485.62,785.90 L487.11,787.64 L489.38,787.98 L490.87,789.73 L493.14,790.07 L494.63,791.82 L496.90,792.16 L498.39,793.90 L500.66,794.25 L502.15,795.99 L504.42,796.34 L505.91,798.08 L508.18,798.42 L509.67,800.17 L511.94,800.51 L513.43,802.26 L515.70,802.60 L517.19,804.34 L519.46,804.69 L520.95,806.43 L520.50,805.27 L514.48,816.11 L516.58,816.36 L514.31,816.01 L512.82,814.27 L510.55,813.93 L509.06,812.18 L506.79,811.84 L505.30,810.09 L503.03,809.75 L501.54,808.01 L499.27,807.66 L497.78,805.92 L495.51,805.57 L494.02,803.83 L491.75,803.49 L490.26,801.74 L487.99,801.40 L486.50,799.65 L484.24,799.31 L482.74,797.57 L480.48,797.22 L478.99,795.48 L476.72,795.13 L475.23,793.39 L472.96,793.05 L471.47,791.30 L469.20,790.96 L467.71,789.21 L465.52,788.73 L464.46,786.21 L462.62,785.09 L461.17,783.27 L459.72,781.45 L458.28,779.63 L456.83,777.81 Z" fill="#000" stroke="#000" stroke-width="1.0" stroke-linejoin="round"/><path d="M464.39,780.04 L462.39,780.78" stroke="#fff" stroke-width="1.0" stroke-linecap="round"/><path d="M469.18,780.60 L465.38,784.54" stroke="#fff" stroke-width="1.0" stroke-linecap="round"/><path d="M473.43,782.10 L468.91,787.36" stroke="#fff" stroke-width="1.0" stroke-linecap="round"/><path d="M477.32,784.26 L472.80,789.52" stroke="#fff" stroke-width="1.0" stroke-linecap="round"/><path d="M481.21,786.42 L476.69,791.69" stroke="#fff" stroke-width="1.0" stroke-linecap="round"/><path d="M485.10,788.58 L480.58,793.85" stroke="#fff" stroke-width="1.0" stroke-linecap="round"/><path d="M488.99,790.74 L484.47,796.01" stroke="#fff" stroke-width="1.0" stroke-linecap="round"/><path d="M492.88,792.90 L488.36,798.17" stroke="#fff" stroke-width="1.0" stroke-linecap="round"/><path d="M496.77,795.06 L492.25,800.33" stroke="#fff" stroke-width="1.0" stroke-linecap="round"/><path d="M500.67,797.22 L496.14,802.49" stroke="#fff" stroke-width="1.0" stroke-linecap="round"/><path d="M504.56,799.39 L500.03,804.65" stroke="#fff" stroke-width="1.0" stroke-linecap="round"/><path d="M508.45,801.55 L503.92,806.81" stroke="#fff" stroke-width="1.0" stroke-linecap="round"/><path d="M512.34,803.71 L507.81,808.97" stroke="#fff" stroke-width="1.0" stroke-linecap="round"/><path d="M516.23,805.87 L511.70,811.13" stroke="#fff" stroke-width="1.0" stroke-linecap="round"/><path d="M519.19,805.57 L562.90,829.85 M514.05,814.84 L557.76,839.12" stroke="#000" stroke-width="2.1"/><path d="M561.83,825.60 L564.94,825.15 L571.60,828.62 L561.30,847.15 L554.84,843.33 L553.58,840.46 Z" fill="#fff" stroke="#000" stroke-width="2" stroke-linejoin="round"/><path d="M559.60,830.65 L568.39,834.39 M556.44,836.33 L564.26,841.82" stroke="#000" stroke-width="1.4"/><ellipse cx="566.58" cy="838.87" rx="5.9" ry="10.3" transform="rotate(29.1 566.58 838.87)" fill="#fff" stroke="#000" stroke-width="2.1"/>
<path d="M615.6,847.8 L615.6,836.7 L646.7,819.8 L657.2,825.0" fill="#fff" stroke="#000" stroke-width="1.9" stroke-linejoin="round"/>
<path d="M615.6,836.7 L627,843.5" fill="none" stroke="#000" stroke-width="2.6"/>
<path d="M738.0,779.0 L738.0,768.1 L768.7,750.7 L779.6,756.1" fill="#fff" stroke="#000" stroke-width="1.9" stroke-linejoin="round"/>
<path d="M738.0,768.1 L749,774.5" fill="none" stroke="#000" stroke-width="2.6"/>
<path d="M579,890.5 Q561.5,898.5 567,906.5 L581,913.5" fill="#fff" stroke="#000" stroke-width="4.2" stroke-linejoin="round"/>
<path d="M570.5,901.2 L579.5,905.6" stroke="#000" stroke-width="3.4"/>
<path d="M580.60,870.60 L828.30,732.00 L832.50,771.70 L580.60,912.80 Z" fill="#fff" stroke="#000" stroke-width="2.4" stroke-linejoin="round"/>
<path d="M580.60,870.00 L828.30,731.60" stroke="#000" stroke-width="5.8" stroke-linecap="round"/>
<path d="M580.30,870.60 L580.30,911.80" stroke="#000" stroke-width="5.2"/>
<path d="M601,982.1 L831.6,851.6 L831.6,892.6 L601,1024.8 Z" fill="#fff" stroke="#000" stroke-width="2.4" stroke-linejoin="round"/>
<g fill="none" stroke="#000" stroke-width="3.6" stroke-linecap="butt" stroke-linejoin="miter">
<path fill="#000" stroke="none" d="M351.6,252.2 L358.9,252.2 L358.9,286.9 L354.8,286.9 L354.8,255.7 L349.2,255.7 Z"/>
<path d="M346.1,601.6 A9.15,9.15 0 1 1 362.3,607.8 L346.6,623.9 L366.2,623.9"/>
<path d="M278.6,823.3 A7.5,7.5 0 1 1 285.6,830.9 A8.5,8.5 0 1 1 277.3,841.7"/>
<path fill="#000" stroke="none" fill-rule="evenodd" d="M441.7,667.4 L441.9,694.3 L446.1,694.3 L446.1,697.8 L441.9,697.8 L441.9,702.9 L438.4,702.9 L438.4,697.8 L420.8,697.8 Z M427.4,694.3 L438.4,694.3 L438.4,678.6 Z"/>
<path d="M553.9,937.3 L539.9,937.3 L536.4,951.4"/><path d="M536.4,951.4 A9.4,9.4 0 1 1 532.6,963.6"/>
<ellipse cx="557.9" cy="1056.5" rx="8.5" ry="9.7"/><path d="M566.8,1045.8 L566.8,1067.0" stroke-width="3.4"/>
</g>
</svg>
</body></html>
